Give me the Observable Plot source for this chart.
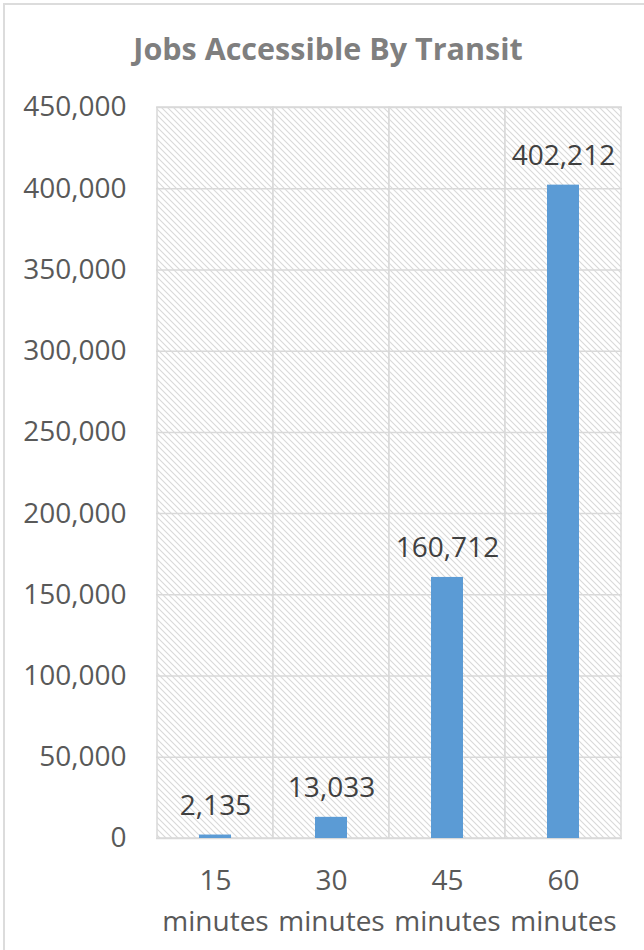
<!DOCTYPE html>
<html>
<head>
<meta charset="utf-8">
<script src="https://cdn.jsdelivr.net/npm/d3@7"></script>
<script src="https://cdn.jsdelivr.net/npm/@observablehq/plot@0.6"></script>
<style>
  html, body { margin: 0; padding: 0; background: #fff; }
  body { width: 644px; height: 950px; overflow: hidden; position: relative; font-family: "Open Sans", sans-serif; }
  #border { position: absolute; left: 3px; top: 3px; width: 700px; height: 1000px; border: 2px solid #dcdcdc; box-sizing: border-box; pointer-events: none; }
  #title { height: 90px; box-sizing: border-box; padding-top: 28px; text-align: center; font-weight: 700; font-size: 30.5px; color: #7f7f7f; line-height: 40px; padding-left: 12px; }
  #chart svg { display: block; }
</style>
</head>
<body>
<div id="border"></div>
<div id="title">Jobs Accessible By Transit</div>
<div id="chart"></div>
<script>
const categories = ["15\nminutes", "30\nminutes", "45\nminutes", "60\nminutes"];
const jobs = [2135, 13033, 160712, 402212];
const yTicks = [0, 50000, 100000, 150000, 200000, 250000, 300000, 350000, 400000, 450000];

const data = categories.map((c, i) => ({category: c, value: jobs[i]}));
const yMax = yTicks[yTicks.length - 1];
const fmt = d3.format(",");

const chart = Plot.plot({
  width: 644,
  height: 860,
  marginTop: 17,
  marginBottom: 112,
  marginLeft: 156,
  marginRight: 22,
  style: {fontFamily: "Open Sans, sans-serif", fontSize: "28px", color: "#595959", background: "transparent", overflow: "visible"},
  x: {domain: categories, padding: 0, label: null},
  y: {domain: [0, yMax], label: null},
  marks: [
    Plot.barY(categories, {x: d => d, y1: 0, y2: yMax, fill: "url(#hatch)", stroke: "#d9d9d9", strokeWidth: 1.5}),
    Plot.gridY(yTicks, {stroke: "#d9d9d9", strokeOpacity: 1, strokeWidth: 1.5}),
    Plot.barY(data, {x: "category", y: "value", fill: "#5b9bd5", insetLeft: 42, insetRight: 42}),
    Plot.text(data, {x: "category", y: "value", text: d => fmt(d.value), lineAnchor: "bottom", dy: -20, fill: "#404040", fontSize: 28}),
    Plot.axisY(yTicks, {tickSize: 0, tickPadding: 30, tickFormat: fmt, fontSize: 28}),
    Plot.axisX({tickSize: 0, tickPadding: 23, fontSize: 28, lineHeight: 1.45})
  ]
});

const svg = d3.select(chart);
const defs = svg.insert("defs", ":first-child");
const pat = defs.append("pattern")
  .attr("id", "hatch")
  .attr("patternUnits", "userSpaceOnUse")
  .attr("width", 6).attr("height", 6);
pat.append("rect").attr("width", 6).attr("height", 6).attr("fill", "#ffffff");
pat.append("path")
  .attr("d", "M-1,-1L7,7M-1,5L1,7M5,-1L7,1")
  .attr("stroke", "#d9d9d9").attr("stroke-width", 1.1);

document.getElementById("chart").appendChild(chart);
</script>
</body>
</html>
